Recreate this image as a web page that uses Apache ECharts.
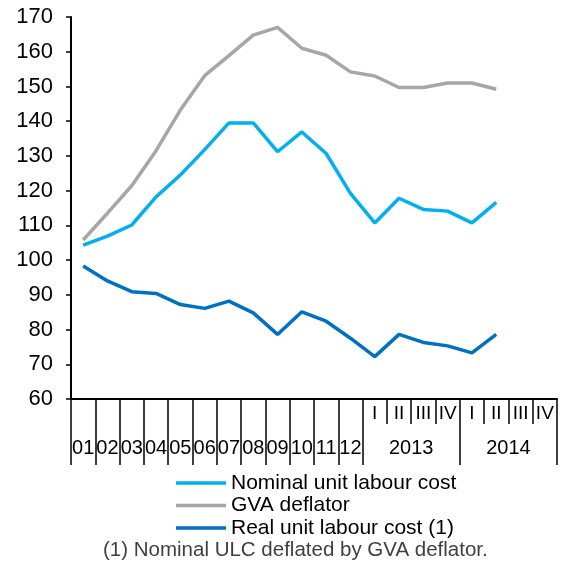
<!DOCTYPE html>
<html>
<head>
<meta charset="utf-8">
<script src="https://cdn.jsdelivr.net/npm/echarts@6/dist/echarts.min.js"></script>
<style>
  html, body { margin: 0; padding: 0; background: #fff; }
  #main { width: 561px; height: 570px; }
</style>
</head>
<body>
<div id="main"></div>
<script>
// categories: 12 years (01..12), then quarters of 2013 and 2014
var months = ['01', '02', '03', '04', '05', '06', '07', '08', '09', '10', '11', '12']
var quarters = ['I', 'II', 'III', 'IV', 'I', 'II', 'III', 'IV']
var years = ['2013', '2014']
var categories = months.concat(quarters)

var nominalUlc = [104.3, 106.9, 110.1, 118.2, 124.5, 131.8, 139.5, 139.5, 131.2, 136.9, 130.7, 119.2, 110.7, 117.8, 114.6, 114.1, 110.7, 116.6]
var gvaDeflator = [105.8, 113.5, 121.4, 131.5, 143.2, 153.1, 158.9, 164.8, 167.0, 161.0, 159.0, 154.2, 153.0, 149.7, 149.7, 151.0, 151.0, 149.2]
var realUlc = [98.3, 94.0, 90.9, 90.4, 87.2, 86.1, 88.2, 84.8, 78.6, 85.1, 82.4, 77.5, 72.2, 78.6, 76.3, 75.3, 73.3, 78.6]

var seriesNames = ['Nominal unit labour cost', 'GVA deflator', 'Real unit labour cost (1)']
var footnote = '(1) Nominal ULC deflated by GVA deflator.'

var font = "'Liberation Sans', Arial, sans-serif"
var myChart = echarts.init(document.getElementById('main'))

function line (name, data, color) {
  return {
    name: name,
    type: 'line',
    data: data,
    xAxisIndex: 0,
    symbol: 'none',
    smooth: false,
    lineStyle: { color: color, width: 3.5 },
    itemStyle: { color: color },
    animation: false
  }
}

var option = {
  textStyle: { fontFamily: font },
  grid: { left: 71, right: 4, top: 17, bottom: 171 },
  title: {
    text: footnote,
    left: 103,
    top: 540,
    padding: 0,
    textStyle: { fontFamily: font, fontSize: 20.5, fontWeight: 'normal', color: '#404040' }
  },
  legend: {
    orient: 'vertical',
    left: 176,
    top: 472,
    padding: 0,
    itemGap: 0.5,
    icon: 'rect',
    itemWidth: 50,
    itemHeight: 3.5,
    textStyle: { fontFamily: font, fontSize: 21, color: '#000', lineHeight: 22 },
    data: seriesNames
  },
  yAxis: {
    type: 'value',
    min: 60,
    max: 170,
    interval: 10,
    axisLine: { show: true, lineStyle: { color: '#000', width: 2 } },
    axisTick: { show: true, length: 5, lineStyle: { color: '#000', width: 1.5 } },
    splitLine: { show: false },
    axisLabel: { color: '#000', fontSize: 22, margin: 18, fontFamily: font }
  },
  xAxis: [
    {
      // data axis, short ticks and quarter labels
      type: 'category',
      data: categories,
      boundaryGap: true,
      position: 'bottom',
      axisLine: { show: true, onZero: false, lineStyle: { color: '#000', width: 2 } },
      axisTick: { show: true, interval: 0, length: 25, lineStyle: { color: '#000', width: 1.5 } },
      axisLabel: {
        interval: 0,
        margin: 5,
        color: '#000',
        fontSize: 19,
        fontFamily: font,
        formatter: function (v, i) { return i >= months.length ? v : '' }
      }
    },
    {
      // long ticks: year and month separators
      type: 'category',
      data: categories,
      boundaryGap: true,
      position: 'bottom',
      axisLine: { show: false, onZero: false },
      axisTick: {
        show: true,
        length: 66,
        lineStyle: { color: '#000', width: 1.5 },
        interval: function (i) { return i <= months.length || i === months.length + 4 }
      },
      axisLabel: { show: false }
    },
    {
      // month and year labels
      type: 'value',
      min: 0,
      max: categories.length,
      interval: 0.5,
      position: 'bottom',
      axisLine: { show: false, onZero: false },
      axisTick: { show: false },
      splitLine: { show: false },
      axisLabel: {
        margin: 39,
        color: '#000',
        fontSize: 20,
        fontFamily: font,
        showMinLabel: true,
        showMaxLabel: true,
        formatter: function (v) {
          if (v < months.length && v % 1 === 0.5) return months[v - 0.5]
          if (v === months.length + 2) return years[0]
          if (v === months.length + 6) return years[1]
          return ''
        }
      }
    }
  ],
  series: [
    line(seriesNames[0], nominalUlc, '#00B0F0'),
    line(seriesNames[1], gvaDeflator, '#A6A6A6'),
    line(seriesNames[2], realUlc, '#0070C0')
  ]
}

myChart.setOption(option)
</script>
</body>
</html>
